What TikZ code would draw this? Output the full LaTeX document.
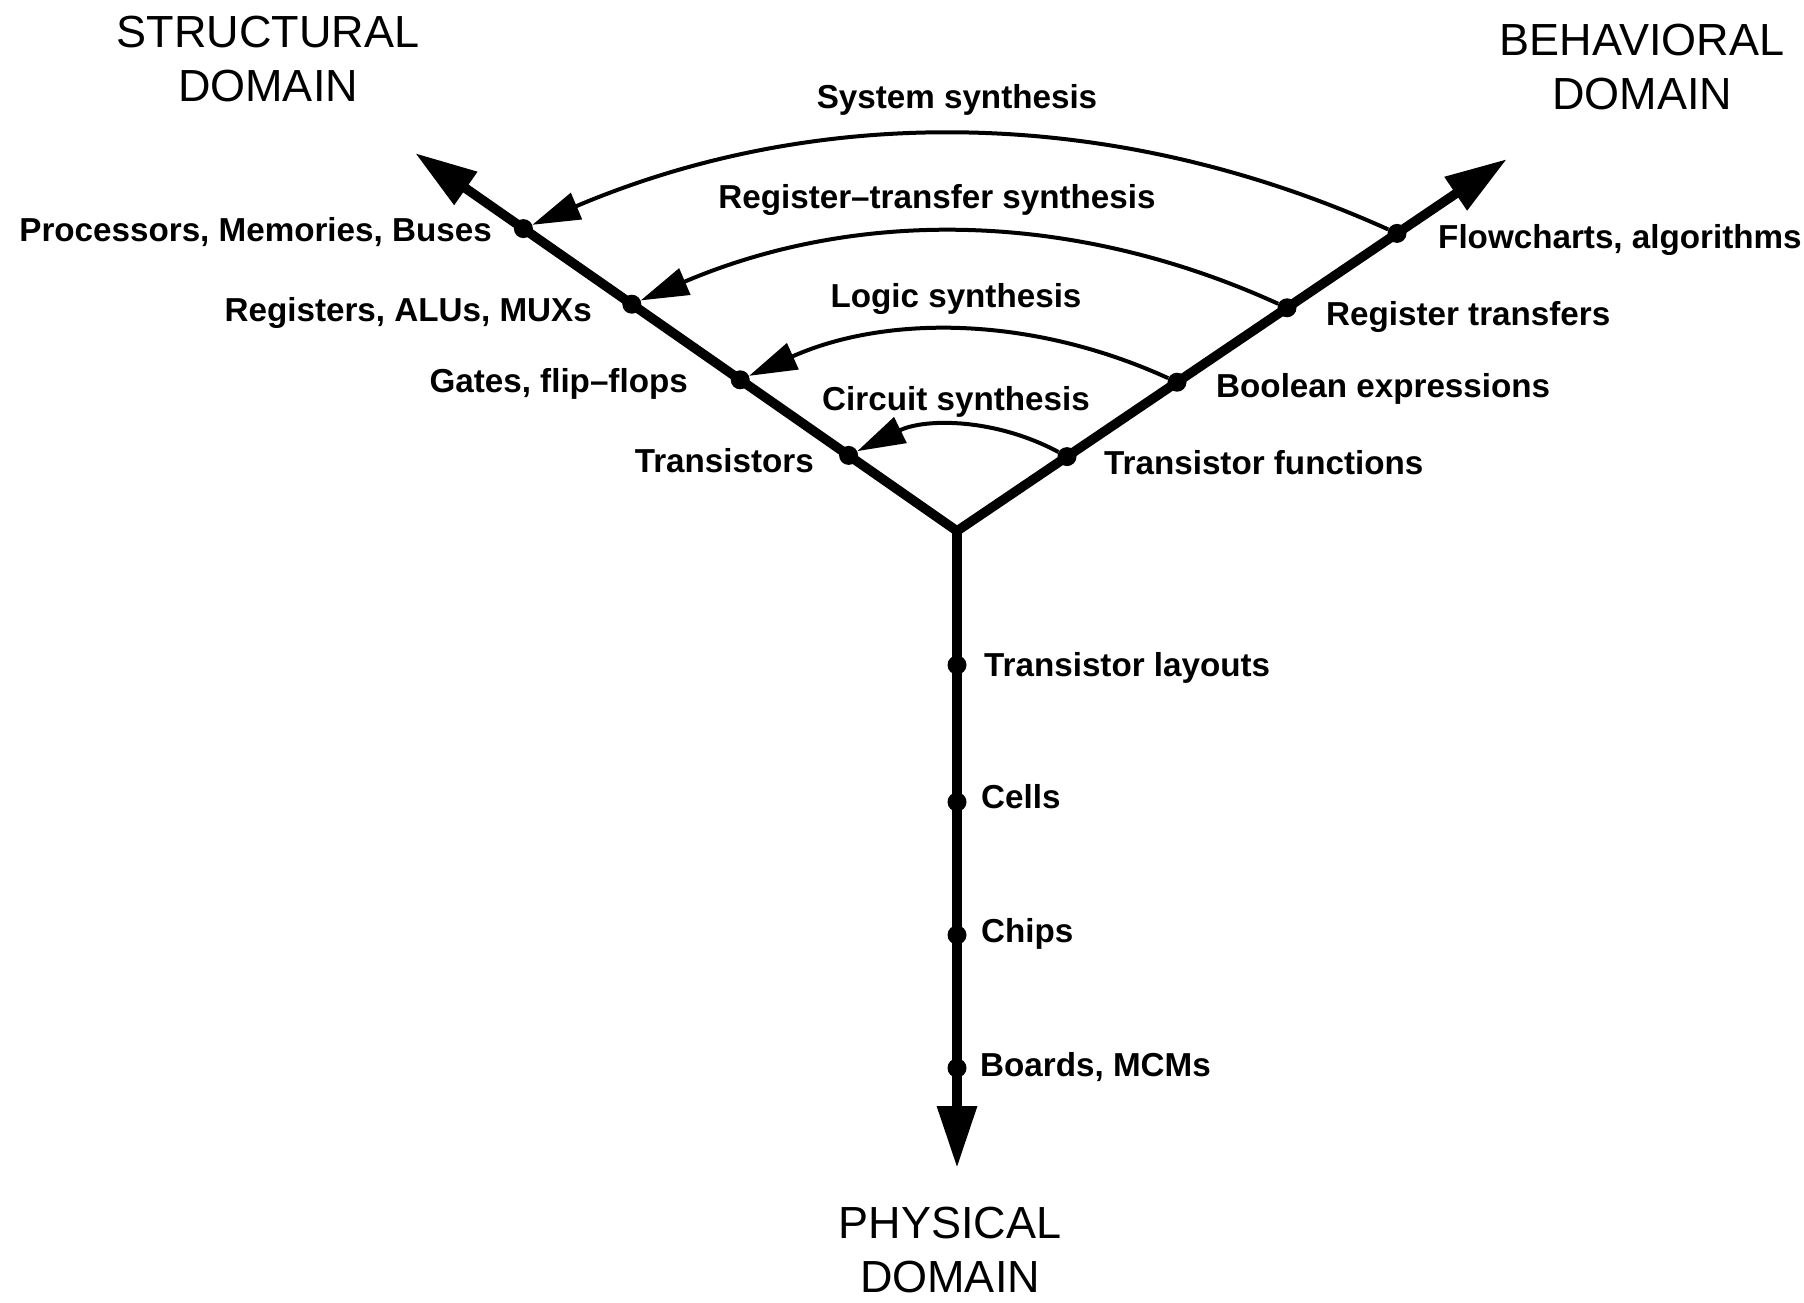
\documentclass[tikz,border=0pt]{standalone}
\usepackage{fontspec}
\setmainfont{Liberation Sans}
\usetikzlibrary{arrows.meta,calc}
\begin{document}
\begin{tikzpicture}[x=1pt,y=-1pt,
  mainline/.style={line width=9.5pt, line join=miter},
  arcline/.style={line width=4pt, -{Triangle[length=48pt,width=28pt]}},
  dot/.style={circle, fill=black, inner sep=0pt, minimum size=19pt},
  lbl/.style={font=\fontsize{33.2}{40}\selectfont\bfseries, inner sep=0pt, text height=24pt, text depth=0pt},
  ttl/.style={font=\fontsize{45}{54}\selectfont, inner sep=0pt, align=center}
]
\useasboundingbox[fill=white] (0,0) rectangle (1804,1303);

% axes
\coordinate (C) at (957,531);
\coordinate (Ltip) at (415,153);
\coordinate (Rtip) at (1507,159);
\coordinate (Dtip) at (957,1168);

\draw[mainline, {Triangle[length=62pt,width=38pt]}-{Triangle[length=62pt,width=38pt]}] (Ltip) -- (C) -- (Rtip);
\draw[mainline, -{Triangle[length=62pt,width=38pt]}] (C) -- (Dtip);

% dots on structural axis
\node[dot] (pr) at ($(C)!0.8!(Ltip)$) {};
\node[dot] (rg) at ($(C)!0.6!(Ltip)$) {};
\node[dot] (gt) at ($(C)!0.4!(Ltip)$) {};
\node[dot] (tr) at ($(C)!0.2!(Ltip)$) {};
% dots on behavioral axis
\node[dot] (fc) at ($(C)!0.8!(Rtip)$) {};
\node[dot] (rt) at ($(C)!0.6!(Rtip)$) {};
\node[dot] (be) at ($(C)!0.4!(Rtip)$) {};
\node[dot] (tf) at ($(C)!0.2!(Rtip)$) {};
% dots on physical axis
\node[dot] (tl) at (957,665) {};
\node[dot] (ce) at (957,802) {};
\node[dot] (ch) at (957,935) {};
\node[dot] (bo) at (957,1068) {};

% synthesis arcs
\draw[arcline] (fc) .. controls (1110,104) and (817,104) .. (pr);
\draw[arcline] (rt) .. controls (1070,209) and (855,209) .. (rg);
\draw[arcline] (be) .. controls (1030,315) and (885,315) .. (gt);
\draw[arcline] (tf) .. controls (995,418) and (925,418) .. (tr);

% arc labels
\node[lbl] (l1) at (957,97) {System synthesis};
\node[lbl] (l2) at (937,196) {Register–transfer synthesis};
\node[lbl] (l3) at (956,295) {Logic synthesis};
\node[lbl] (l4) at (956,398) {Circuit synthesis};

% structural labels
\node[lbl, anchor=east] (t1) at (492,229) {Processors, Memories, Buses};
\node[lbl, anchor=east] (t2) at (592,309) {Registers, ALUs, MUXs};
\node[lbl, anchor=east] (t3) at (688,380) {Gates, flip–flops};
\node[lbl, anchor=east] (t4) at (814,460) {Transistors};
% behavioral labels
\node[lbl, anchor=west] (b1) at (1438,236) {Flowcharts, algorithms};
\node[lbl, anchor=west] (b2) at (1326,313) {Register transfers};
\node[lbl, anchor=west] (b3) at (1216,385) {Boolean expressions};
\node[lbl, anchor=west] (b4) at (1104,462) {Transistor functions};
% physical labels
\node[lbl, anchor=west] (p1) at (984,664) {Transistor layouts};
\node[lbl, anchor=west] (p2) at (981,796) {Cells};
\node[lbl, anchor=west] (p3) at (981,930) {Chips};
\node[lbl, anchor=west] (p4) at (980,1064) {Boards, MCMs};

% domain titles
\node[ttl] (sd) at (268,59) {STRUCTURAL\\DOMAIN};
\node[ttl] (bd) at (1642,67) {BEHAVIORAL\\DOMAIN};
\node[ttl] (pd) at (950,1250) {PHYSICAL\\DOMAIN};
\end{tikzpicture}
\end{document}
